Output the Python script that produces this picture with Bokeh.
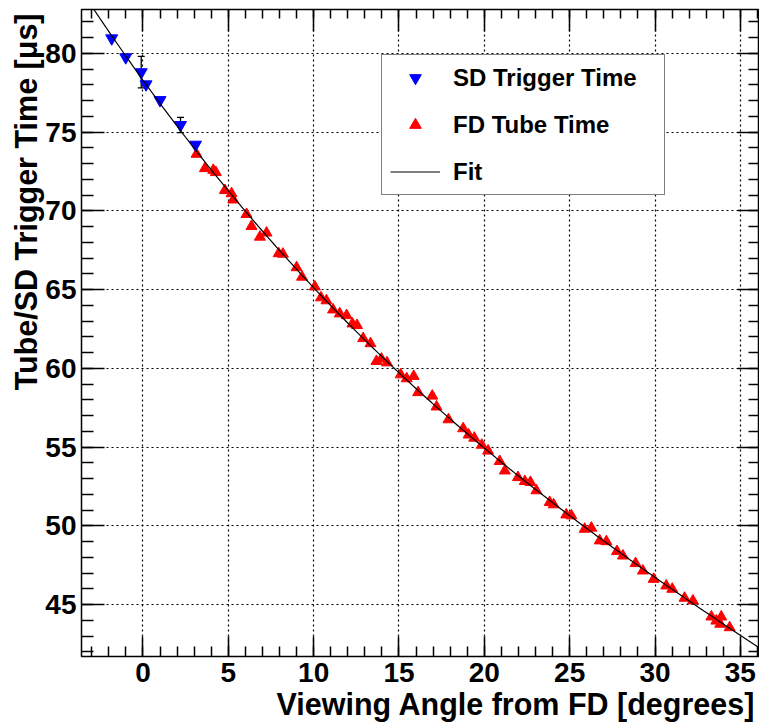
import numpy as np
from bokeh.plotting import figure
from bokeh.models import (Range1d, LinearAxis, ColumnDataSource, Whisker, TeeHead,
                          Legend, LegendItem, Title, SingleIntervalTicker, FixedTicker)
from bokeh.embed import file_html
from bokeh.resources import INLINE

# ---- data ----
sd_angle = [-1.83, -1.01, -0.10, 0.18, 1.00, 2.20, 3.08]
sd_time = [80.95, 79.75, 78.80, 78.03, 77.03, 75.45, 74.20]
sd_err = [0.0, 0.0, 1.0, 0.0, 0.0, 0.48, 0.0]

fd_angle = [3.14, 3.63, 4.12, 4.27, 4.80, 5.19, 5.29, 6.07, 6.36, 6.85,
            7.24, 7.95, 8.20, 9.00, 9.32, 10.07, 10.43, 10.75, 11.14, 11.53,
            11.93, 12.27, 12.54, 12.90, 13.33, 13.68, 13.97, 14.30, 15.10, 15.45,
            15.86, 16.12, 16.95, 17.20, 17.90, 18.76, 19.08, 19.41, 19.85, 20.22,
            20.90, 21.20, 21.97, 22.37, 22.70, 23.05, 23.83, 24.06, 24.80, 25.10,
            25.88, 26.27, 26.76, 27.15, 27.77, 28.12, 28.86, 29.29, 29.92, 30.66,
            31.01, 31.73, 32.22, 33.30, 33.59, 33.88, 33.82, 34.37]
fd_time = [73.60, 72.69, 72.58, 72.44, 71.30, 71.10, 70.70, 69.78, 69.02, 68.34,
           68.60, 67.29, 67.26, 66.40, 65.80, 65.18, 64.49, 64.30, 63.72, 63.47,
           63.36, 62.83, 62.73, 61.90, 61.58, 60.45, 60.60, 60.36, 59.60, 59.35,
           59.50, 58.47, 58.25, 57.56, 56.75, 56.18, 55.78, 55.58, 55.13, 54.76,
           54.10, 53.50, 53.08, 52.83, 52.77, 52.24, 51.50, 51.35, 50.71, 50.65,
           49.80, 49.87, 49.06, 49.01, 48.38, 48.10, 47.62, 47.15, 46.62, 46.20,
           45.99, 45.42, 45.25, 44.23, 43.97, 44.23, 43.77, 43.55]

x_title = "Viewing Angle from FD [degrees]"
y_title = "Tube/SD Trigger Time [μs]"
legend_labels = ["SD Trigger Time", "FD Tube Time", "Fit"]

X_MIN, X_MAX = -3.6, 36.12
Y_MIN, Y_MAX = 41.71, 82.78

# tick positions for the unlabeled top / right axes
x_major = [0, 5, 10, 15, 20, 25, 30, 35]
x_minor = [v for v in range(-3, 37)]
y_major = [45, 50, 55, 60, 65, 70, 75, 80]
y_minor = [v for v in range(42, 83)]

FONT = "Liberation Sans"

# Fit through all points (cubic polynomial)
all_x = np.array(sd_angle + fd_angle)
all_y = np.array(sd_time + fd_time)
coef = np.polyfit(all_x, all_y, 3)
fit_x = np.linspace(X_MIN, X_MAX, 300)
fit_y = np.polyval(coef, fit_x)

p = figure(width=759, height=724, output_backend="svg", toolbar_location=None,
           x_range=Range1d(X_MIN, X_MAX), y_range=Range1d(Y_MIN, Y_MAX),
           min_border_left=81, min_border_right=0, min_border_top=9,
           min_border_bottom=68, background_fill_color="white",
           border_fill_color="white")

p.outline_line_color = "black"
p.outline_line_width = 1.5

xt = SingleIntervalTicker(interval=5, num_minor_ticks=5)
yt = SingleIntervalTicker(interval=5, num_minor_ticks=5)


def style_ticks(ax, tick_in, minor_in):
    ax.axis_line_color = None
    ax.major_tick_in = tick_in
    ax.major_tick_out = 0
    ax.minor_tick_in = minor_in
    ax.minor_tick_out = 0
    ax.major_tick_line_color = "black"
    ax.minor_tick_line_color = "black"
    ax.major_tick_line_width = 1.5
    ax.minor_tick_line_width = 1.5


xa = p.xaxis[0]
xa.ticker = xt
style_ticks(xa, 20, 10)
xa.major_label_text_font = FONT
xa.major_label_text_font_style = "bold"
xa.major_label_text_font_size = "28px"
xa.major_label_text_color = "black"
xa.major_label_standoff = 6

ya = p.yaxis[0]
ya.ticker = yt
style_ticks(ya, 23, 12)
ya.major_label_text_font = FONT
ya.major_label_text_font_style = "bold"
ya.major_label_text_font_size = "28px"
ya.major_label_text_color = "black"
ya.major_label_standoff = 5

# unlabeled top and right axes: ticks only (drawn as "minor" ticks, no labels)
for side, maj, mnr, lmaj, lmin in (("above", x_major, x_minor, 22, 9),
                                    ("right", y_major, y_minor, 22, 11)):
    a1 = LinearAxis(ticker=FixedTicker(ticks=[], minor_ticks=maj))
    style_ticks(a1, 0, lmaj)
    a1.major_label_standoff = 0
    p.add_layout(a1, side)
    a2 = LinearAxis(ticker=FixedTicker(ticks=[], minor_ticks=mnr))
    style_ticks(a2, 0, lmin)
    a2.major_label_standoff = 0
    p.add_layout(a2, side)

p.xgrid.ticker = xt
p.ygrid.ticker = yt
for g in (p.xgrid[0], p.ygrid[0]):
    g.grid_line_color = "black"
    g.grid_line_dash = "2 3"
    g.grid_line_width = 1.2

# axis titles, right-aligned as in ROOT
p.add_layout(Title(text=y_title, align="right", text_font=FONT,
                   text_font_style="bold", text_font_size="30.5px",
                   text_color="black", standoff=0, offset=4), "left")
p.add_layout(Title(text=x_title, align="right", text_font=FONT,
                   text_font_style="bold", text_font_size="30.5px",
                   text_color="black", standoff=0, offset=4), "below")

# error bars on SD points
err_idx = [i for i, e in enumerate(sd_err) if e > 0]
err_src = ColumnDataSource(dict(
    x=[sd_angle[i] for i in err_idx],
    upper=[sd_time[i] + sd_err[i] for i in err_idx],
    lower=[sd_time[i] - sd_err[i] for i in err_idx],
))
wh = Whisker(base="x", upper="upper", lower="lower", source=err_src,
             line_color="black", line_width=1.3,
             upper_head=TeeHead(size=7, line_color="black", line_width=1.3),
             lower_head=TeeHead(size=7, line_color="black", line_width=1.3))
p.add_layout(wh)

fd_r = p.scatter(fd_angle, fd_time, marker="triangle", size=11,
                 fill_color="red", line_color="red")
sd_r = p.scatter(sd_angle, sd_time, marker="inverted_triangle", size=12,
                 fill_color="blue", line_color="blue")
fit_r = p.line(fit_x, fit_y, line_color="black", line_width=1.2)

legend = Legend(items=[LegendItem(label=legend_labels[0], renderers=[sd_r]),
                       LegendItem(label=legend_labels[1], renderers=[fd_r]),
                       LegendItem(label=legend_labels[2], renderers=[fit_r])],
                location=(300, 461), orientation="vertical",
                label_text_font=FONT, label_text_font_style="bold",
                label_text_font_size="24px", label_text_color="black",
                glyph_width=50, glyph_height=29, label_height=29,
                label_width=203, label_standoff=13, spacing=18, padding=8,
                margin=0, border_line_color="black", border_line_width=1.5,
                background_fill_color="white", background_fill_alpha=1.0)
p.add_layout(legend)

open("out.html", "w").write(file_html(p, INLINE))
